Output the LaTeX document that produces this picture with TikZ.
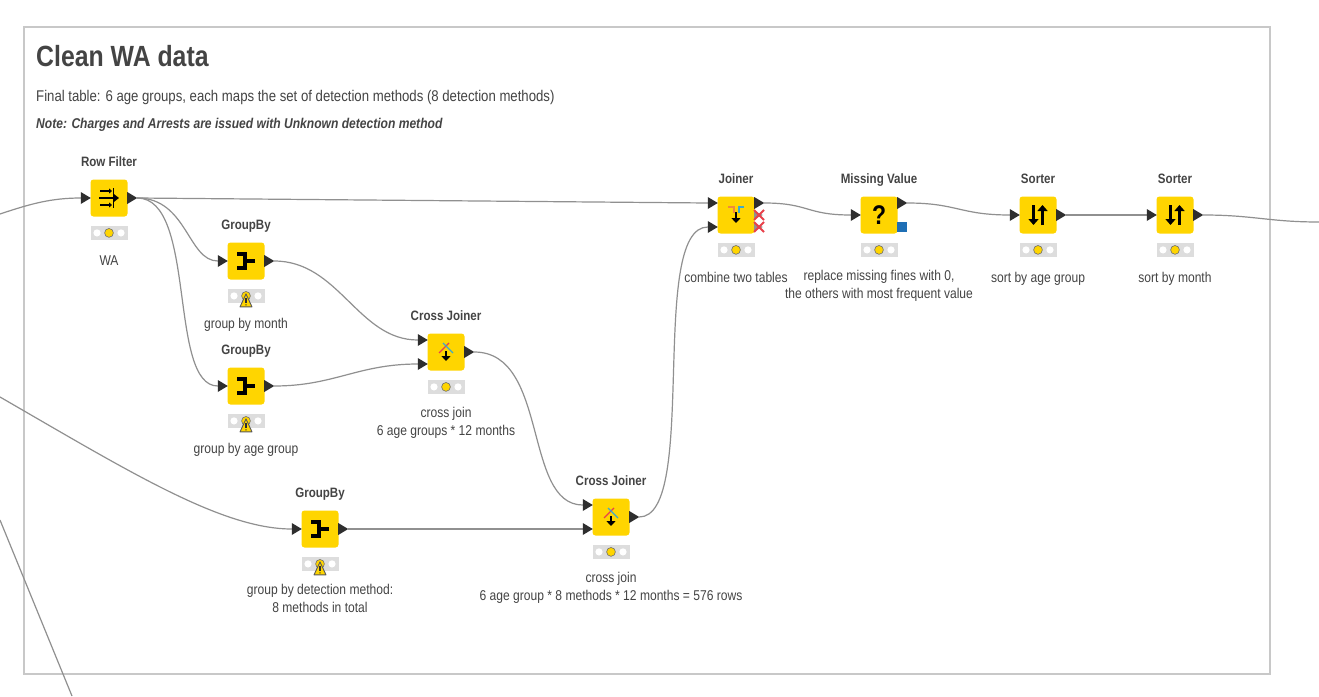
\documentclass[tikz,border=0pt]{standalone}
\usepackage{fontspec}
\setmainfont[FakeStretch=0.85]{Liberation Sans}
\usetikzlibrary{positioning,arrows.meta}

\definecolor{kyellow}{HTML}{FFD500}
\definecolor{kdark}{HTML}{2E2E2E}
\definecolor{ktext}{HTML}{444444}
\definecolor{kwire}{HTML}{909090}
\definecolor{kframe}{HTML}{C8C8C8}
\definecolor{klamp}{HTML}{DDDDDD}
\definecolor{kblue}{HTML}{1F6FB5}
\definecolor{kred}{HTML}{E8414B}
\definecolor{kteal}{HTML}{3FA9C9}
\definecolor{korange}{HTML}{F08A3C}

\tikzset{
    knode/.style={fill=kyellow,rounded corners=3pt,minimum size=37pt,inner sep=0pt},
    ktitle/.style={font=\fontsize{13.6}{15}\selectfont\bfseries,text=ktext,text height=10pt,text depth=3pt,inner sep=0pt},
    klight/.style={fill=klamp,minimum width=37pt,minimum height=14pt,inner sep=0pt},
    klabel/.style={font=\fontsize{14.2}{18}\selectfont,text=ktext,align=center,inner sep=0pt,execute at begin node=\strut},
    wire/.style={draw=kwire,line width=1.2pt},
}

\begin{document}
\begin{tikzpicture}[x=1pt,y=-1pt]
    \useasboundingbox(0,0)rectangle(1319,696);
    \fill[white](0,0)rectangle(1319,696);

    \draw[kframe,line width=2pt](24,27)rectangle(1270,674);
    \node[anchor=west,font=\fontsize{29.2}{32}\selectfont\bfseries,text=ktext,inner sep=0pt](headline)at(36,56){Clean WA data};
    \node[anchor=west,font=\fontsize{15.5}{17}\selectfont,text=ktext,inner sep=0pt](subline)at(36,97){Final table: 6 age groups, each maps the set of detection methods (8 detection methods)};
    \node[anchor=west,font=\fontsize{14.2}{17}\selectfont\bfseries\itshape,text=ktext,inner sep=0pt](noteline)at(36,125){Note: Charges and Arrests are issued with Unknown detection method};

    % boxes, titles, lights and comments
    \foreach \nm/\x/\y/\ttl/\cmt in {
        rowfilter/109/198/Row Filter/WA,
        groupa/246/261/GroupBy/group by month,
        groupb/246/386/GroupBy/group by age group,
        groupc/320/529/GroupBy/{group by detection method:\\8 methods in total},
        crossa/446/352/Cross Joiner/{cross join\\6 age groups * 12 months},
        crossb/611/517/Cross Joiner/{cross join\\6 age group * 8 methods * 12 months = 576 rows},
        joiner/736/215/Joiner/combine two tables,
        missing/879/215/Missing Value/{replace missing fines with 0,\\the others with most frequent value},
        sortera/1038/215/Sorter/sort by age group,
        sorterb/1175/215/Sorter/sort by month}{
        \node[knode](\nm)at(\x,\y){};
        \node[ktitle,above=10pt of \nm](\nm-title){\ttl};
        \node[klight,below=9pt of \nm](\nm-light){};
        \node[klabel,below=13pt of \nm-light](\nm-label){\cmt};
        \fill[white]([xshift=-12pt]\nm-light.center)circle(3.6);
        \fill[white]([xshift=12pt]\nm-light.center)circle(3.6);
        \filldraw[fill=kyellow,draw=kdark!70,line width=0.6pt](\nm-light.center)circle(4.4);
    }

    % warning signs
    \foreach \nm in {groupa,groupb,groupc}{
        \filldraw[fill=kyellow,draw=kdark!80,line width=0.9pt,line join=round]
            ([yshift=2pt]\nm-light.center)--([xshift=-6pt,yshift=-11pt]\nm-light.center)--([xshift=6pt,yshift=-11pt]\nm-light.center)--cycle;
        \draw[kdark,line width=1.2pt]([yshift=-2pt]\nm-light.center)--([yshift=-7pt]\nm-light.center);
        \fill[kdark]([yshift=-9pt]\nm-light.center)circle(0.7);
    }

    % connectors
    \foreach \nm/\pt/\dy in {rowfilter/in/0,groupa/in/0,groupb/in/0,groupc/in/0,crossa/ina/12,crossa/inb/-12,
        crossb/ina/12,crossb/inb/-12,joiner/ina/12,joiner/inb/-12,missing/in/0,sortera/in/0,sorterb/in/0}{
        \coordinate(\nm-\pt)at([xshift=-9.5pt,yshift=\dy pt]\nm.west);
    }
    \foreach \nm/\dy in {rowfilter/0,groupa/0,groupb/0,groupc/0,crossa/0,crossb/0,joiner/12,missing/12,sortera/0,sorterb/0}{
        \coordinate(\nm-out)at([xshift=9.5pt,yshift=\dy pt]\nm.east);
    }
    \coordinate(leftA)at(0,214);
    \coordinate(leftB)at(0,397);
    \coordinate(leftC)at(0,520);
    \coordinate(leftD)at(72,696);
    \coordinate(rightA)at(1319,222);

    \draw[wire](leftA)..controls +(30,-10) and +(-30,0)..(rowfilter-in);
    \draw[wire](leftB)..controls +(130,75) and +(-70,0)..(groupc-in);
    \draw[wire](leftC)--(leftD);
    \draw[wire](rowfilter-out)--(joiner-ina);
    \draw[wire](rowfilter-out)..controls +(50,0) and +(-30,0)..(groupa-in);
    \draw[wire](rowfilter-out)..controls +(60,0) and +(-50,0)..(groupb-in);
    \draw[wire](groupa-out)..controls +(65,0) and +(-60,0)..(crossa-ina);
    \draw[wire](groupb-out)..controls +(60,0) and +(-60,0)..(crossa-inb);
    \draw[wire](crossa-out)..controls +(75,0) and +(-60,0)..(crossb-ina);
    \draw[wire](groupc-out)--(crossb-inb);
    \draw[wire](crossb-out)..controls +(60,0) and +(-60,0)..(joiner-inb);
    \draw[wire](joiner-out)..controls +(45,0) and +(-45,0)..(missing-in);
    \draw[wire](missing-out)..controls +(50,0) and +(-50,0)..(sortera-in);
    \draw[wire](sortera-out)--(sorterb-in);
    \draw[wire](sorterb-out)..controls +(50,0) and +(-50,0)..(rightA);

    % ports
    \foreach \pt in {rowfilter-in,groupa-in,groupb-in,groupc-in,crossa-ina,crossa-inb,crossb-ina,crossb-inb,
        joiner-ina,joiner-inb,missing-in,sortera-in,sorterb-in}{
        \fill[kdark]([yshift=6pt]\pt)--++(10,6)--++(-10,6)--cycle;
    }
    \foreach \pt in {rowfilter-out,groupa-out,groupb-out,groupc-out,crossa-out,crossb-out,joiner-out,missing-out,sortera-out,sorterb-out}{
        \fill[kdark](\pt)--++(-10,-6)--++(0,12)--cycle;
    }

    % icons
    \foreach \nm in {groupa,groupb,groupc}{
        \begin{scope}[shift={(\nm.center)}]
            \draw[black,line width=3.6pt](-9,-7)--(-1,-7)--(-1,7)--(-9,7);
            \draw[black,line width=3.6pt](-1,0)--(9,0);
        \end{scope}
    }
    \foreach \nm in {sortera,sorterb}{
        \begin{scope}[shift={(\nm.center)}]
            \draw[black,line width=2.8pt,-{Triangle[width=10pt,length=6pt]}](-4.5,-10)--(-4.5,10);
            \draw[black,line width=2.8pt,-{Triangle[width=10pt,length=6pt]}](4.5,10)--(4.5,-10);
        \end{scope}
    }
    \foreach \nm in {crossa,crossb}{
        \begin{scope}[shift={(\nm.center)}]
            \draw[kred,line width=1.2pt](3,-9)--(-3,-3)--(-7,1);
            \draw[kteal,line width=1.2pt](-3,-9)--(3,-3)--(7,1);
            \draw[black,line width=2.4pt,-{Triangle[width=9pt,length=5pt]}](0,-1)--(0,9);
        \end{scope}
    }
    \begin{scope}[shift={(rowfilter.center)}]
        \draw[black,line width=1.2pt,-{Triangle[width=5pt,length=3pt]}](-9,-7)--(3,-7);
        \draw[black,line width=1.4pt](4.5,-10)--(4.5,-4);
        \draw[black,line width=1.8pt,-{Triangle[width=9pt,length=6pt]}](-10,0)--(10,0);
        \draw[black,line width=1.2pt,-{Triangle[width=5pt,length=3pt]}](-9,7)--(3,7);
        \draw[black,line width=1.4pt](4.5,4)--(4.5,10);
    \end{scope}
    \begin{scope}[shift={(joiner.center)}]
        \draw[korange,line width=1.3pt](-8,-8)--(-2,-8)--(-2,-2);
        \draw[kteal,line width=1.3pt](8,-8)--(3,-8)--(3,-2);
        \draw[black,line width=2.4pt,-{Triangle[width=9pt,length=5pt]}](0,-3)--(0,8);
        \fill[kwire](18,-4)--(27,0)--(18,4)--cycle;
        \fill[kwire](18,8)--(27,12)--(18,16)--cycle;
        \draw[kred,line width=1.8pt](18,-5)--(28,5)(28,-5)--(18,5);
        \draw[kred,line width=1.8pt](18,7)--(28,17)(28,7)--(18,17);
    \end{scope}
    \node[font=\fontsize{27}{29}\selectfont\bfseries,text=black,inner sep=0pt](missing-mark)at(missing.center){?};
    \node[fill=kblue,minimum size=10pt,inner sep=0pt](missing-port)at(902,227){};

\end{tikzpicture}
\end{document}
